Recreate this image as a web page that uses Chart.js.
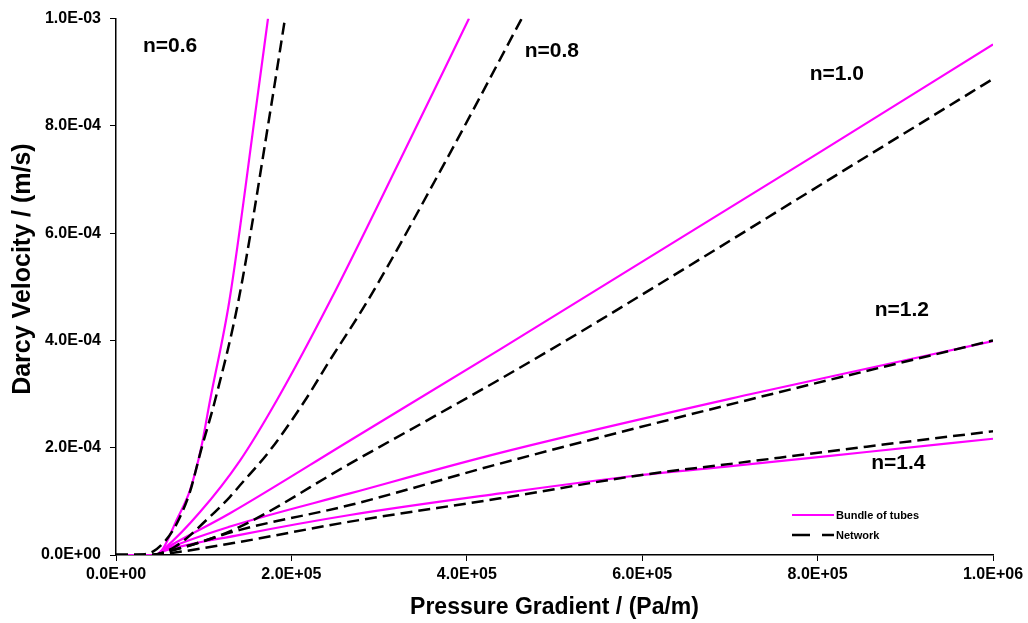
<!DOCTYPE html>
<html>
<head>
<meta charset="utf-8">
<script src="https://cdn.jsdelivr.net/npm/chart.js@4.4.1/dist/chart.umd.min.js"></script>
<style>
  html, body { margin: 0; padding: 0; background: #ffffff; }
  #c { display: block; }
</style>
</head>
<body>
<canvas id="c" width="1028" height="623"></canvas>
<script>
// ---- Data ----
const xTickValues = [0, 2e5, 4e5, 6e5, 8e5, 1e6];
const xTickLabels = ["0.0E+00", "2.0E+05", "4.0E+05", "6.0E+05", "8.0E+05", "1.0E+06"];
const yTickValues = [0, 2e-4, 4e-4, 6e-4, 8e-4, 1e-3];
const yTickLabels = ["0.0E+00", "2.0E-04", "4.0E-04", "6.0E-04", "8.0E-04", "1.0E-03"];

// Bundle of tubes (solid magenta)
const bundleX06 = [0, 4.45e4, 5.4e4, 6.9e4, 8.44e4, 9.7e4, 1.072e5, 1.292e5, 1.604e5, 1.733e5];
const bundleY06 = [0, 0, 1.3e-5, 6.5e-5, 1.21e-4, 1.99e-4, 2.88e-4, 4.73e-4, 8.43e-4, 1.0e-3];
const bundleX08 = [0, 4.45e4, 5.59e4, 9.58e4, 1.414e5, 1.832e5, 2.44e5, 3.238e5, 4.025e5];
const bundleY08 = [0, 0, 1.3e-5, 8.0e-5, 1.76e-4, 2.88e-4, 4.73e-4, 7.36e-4, 1.0e-3];
const bundleX10 = [0, 4.45e4, 5.59e4, 1.3e5, 2.668e5, 4.379e5, 8.027e5, 1.0e6];
const bundleY10 = [0, 0, 1.17e-5, 7.78e-5, 2.135e-4, 3.833e-4, 7.51e-4, 9.52e-4];
const bundleX12 = [0, 4.45e4, 5.59e4, 1.3e5, 2.668e5, 4.379e5, 7.229e5, 1.0e6];
const bundleY12 = [0, 0, 9.8e-6, 5.3e-5, 1.148e-4, 1.904e-4, 2.996e-4, 3.987e-4];
const bundleX14 = [0, 4.45e4, 5.59e4, 1.414e5, 2.668e5, 4.379e5, 5.975e5, 7.039e5, 8.56e5, 1.0e6];
const bundleY14 = [0, 0, 8.0e-6, 3.76e-5, 7.46e-5, 1.148e-4, 1.487e-4, 1.66e-4, 1.92e-4, 2.167e-4];

// Network (dashed black)
const networkX06 = [0, 1.6e4, 3.11e4, 4.25e4, 5.39e4, 6.53e4, 7.49e4, 8.44e4, 9.01e4, 9.69e4, 1.129e5, 1.395e5, 1.775e5, 1.927e5];
const networkY06 = [0, 0, 1.0e-6, 6.7e-6, 2.22e-5, 4.69e-5, 7.78e-5, 1.18e-4, 1.52e-4, 1.95e-4, 2.88e-4, 4.73e-4, 8.43e-4, 1.0e-3];
const networkX08 = [0, 3.88e4, 6.73e4, 1.072e5, 1.3e5, 1.414e5, 1.756e5, 2.155e5, 2.421e5, 2.877e5, 3.751e5, 4.626e5];
const networkY08 = [0, 0, 1.54e-5, 7.15e-5, 1.085e-4, 1.30e-4, 1.95e-4, 2.88e-4, 3.585e-4, 4.76e-4, 7.32e-4, 1.0e-3];
const networkX10 = [0, 3.88e4, 6.16e4, 1.337e5, 2.668e5, 4.379e5, 5.31e5, 8.635e5, 1.0e6];
const networkY10 = [0, 0, 8.0e-6, 4.69e-5, 1.704e-4, 3.278e-4, 4.172e-4, 7.506e-4, 8.876e-4];
const networkX12 = [0, 3.88e4, 6.73e4, 1.414e5, 2.668e5, 4.379e5, 7.229e5, 1.0e6];
const networkY12 = [0, 0, 9.8e-6, 4.69e-5, 9.31e-5, 1.704e-4, 2.90e-4, 4.0e-4];
const networkX14 = [0, 3.88e4, 7.3e4, 1.337e5, 2.668e5, 4.379e5, 5.975e5, 7.039e5, 8.56e5, 1.0e6];
const networkY14 = [0, 0, 6.1e-6, 2.22e-5, 6.22e-5, 1.056e-4, 1.487e-4, 1.705e-4, 2.02e-4, 2.307e-4];

// Curve annotations
const noteTexts = ["n=0.6", "n=0.8", "n=1.0", "n=1.2", "n=1.4"];
const noteX = [6.16e4, 4.97e5, 8.22e5, 8.96e5, 8.92e5];
const noteY = [9.49e-4, 9.39e-4, 8.97e-4, 4.56e-4, 1.71e-4];

const legendLabels = ["Bundle of tubes", "Network"];
const xTitle = "Pressure Gradient / (Pa/m)";
const yTitle = "Darcy Velocity / (m/s)";

// ---- Build datasets ----
function pts(xs, ys) { return xs.map((x, i) => ({ x: x, y: ys[i] })); }
const MAGENTA = "#ff00ff";
const bundleSets = [[bundleX06, bundleY06], [bundleX08, bundleY08], [bundleX10, bundleY10], [bundleX12, bundleY12], [bundleX14, bundleY14]];
const networkSets = [[networkX06, networkY06], [networkX08, networkY08], [networkX10, networkY10], [networkX12, networkY12], [networkX14, networkY14]];

const datasets = [];
networkSets.forEach((s, i) => datasets.push({
  label: legendLabels[1] + " " + noteTexts[i], data: pts(s[0], s[1]),
  borderColor: "#000000", borderWidth: 2.5, borderDash: [12, 6],
  pointRadius: 0, fill: false, cubicInterpolationMode: "monotone", order: 0
}));
bundleSets.forEach((s, i) => datasets.push({
  label: legendLabels[0] + " " + noteTexts[i], data: pts(s[0], s[1]),
  borderColor: MAGENTA, borderWidth: 2.2,
  pointRadius: 0, fill: false, cubicInterpolationMode: "monotone", order: 1
}));

const FONT = "'Liberation Sans', Arial, Helvetica, sans-serif";

const notesPlugin = {
  id: "notes",
  afterDatasetsDraw(chart) {
    const c = chart.ctx, xs = chart.scales.x, ys = chart.scales.y;
    c.save();
    c.fillStyle = "#000";
    c.font = "bold 21px " + FONT;
    c.textAlign = "center";
    c.textBaseline = "middle";
    noteTexts.forEach((t, i) => c.fillText(t, xs.getPixelForValue(noteX[i]), ys.getPixelForValue(noteY[i])));
    // legend inside plot, lower right
    const a = chart.chartArea;
    const lx = a.right - 201, ly1 = a.bottom - 40, ly2 = a.bottom - 20;
    c.lineWidth = 2.2; c.strokeStyle = MAGENTA; c.setLineDash([]);
    c.beginPath(); c.moveTo(lx, ly1); c.lineTo(lx + 42, ly1); c.stroke();
    c.lineWidth = 2.5; c.strokeStyle = "#000"; c.setLineDash([18, 12]);
    c.beginPath(); c.moveTo(lx, ly2); c.lineTo(lx + 42, ly2); c.stroke();
    c.setLineDash([]);
    c.font = "bold 11px " + FONT;
    c.textAlign = "left";
    c.fillText(legendLabels[0], lx + 44, ly1 + 1);
    c.fillText(legendLabels[1], lx + 44, ly2 + 1);
    // y-axis title (rotated)
    c.font = "bold 25px " + FONT;
    c.textAlign = "center";
    c.translate(23, a.top + (a.bottom - a.top) * 0.467);
    c.rotate(-Math.PI / 2);
    c.fillText(yTitle, 0, 0);
    c.restore();
  }
};

new Chart(document.getElementById("c"), {
  type: "line",
  data: { datasets: datasets },
  options: {
    responsive: false,
    animation: false,
    layout: { padding: { top: 15, right: 35, left: 0, bottom: 0 } },
    plugins: { legend: { display: false }, tooltip: { enabled: false } },
    scales: {
      x: {
        type: "linear", min: 0, max: 1e6,
        afterBuildTicks: (s) => { s.ticks = xTickValues.map(v => ({ value: v })); },
        afterFit: (s) => { s.height = 68; },
        ticks: {
          color: "#000", padding: 4, maxRotation: 0, autoSkip: false,
          font: { family: FONT, size: 16, weight: "bold" },
          callback: (v, i) => xTickLabels[i]
        },
        grid: { drawOnChartArea: false, drawTicks: true, tickLength: 6, color: "#000", lineWidth: 1 },
        border: { display: true, color: "#000", width: 1.5 },
        title: {
          display: true, text: xTitle, color: "#000",
          font: { family: FONT, size: 23, weight: "bold" }, padding: { top: 0, bottom: 2 }
        }
      },
      y: {
        type: "linear", min: 0, max: 1e-3,
        afterBuildTicks: (s) => { s.ticks = yTickValues.map(v => ({ value: v })); },
        afterFit: (s) => { s.width = 116; },
        ticks: {
          color: "#000", padding: 9, autoSkip: false,
          font: { family: FONT, size: 16, weight: "bold" },
          callback: (v, i) => yTickLabels[i]
        },
        grid: { drawOnChartArea: false, drawTicks: true, tickLength: 6, color: "#000", lineWidth: 1 },
        border: { display: true, color: "#000", width: 1.5 },
        title: { display: false }
      }
    }
  },
  plugins: [notesPlugin]
});
</script>
</body>
</html>
